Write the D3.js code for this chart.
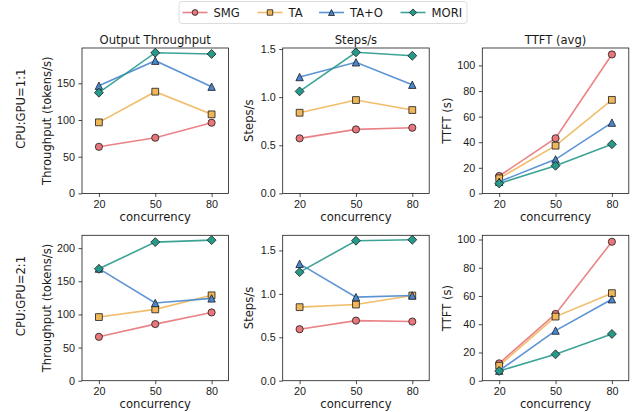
<!DOCTYPE html>
<html lang="en">
<head>
<meta charset="utf-8">
<script src="https://cdn.jsdelivr.net/npm/d3@7"></script>
<style>
body { margin: 0; background: #fff; }
svg { display: block; font-family: "DejaVu Sans", sans-serif; }
.tick text { font-size: 10.8px; fill: #1a1a1a; }
.tick line { stroke: #1a1a1a; stroke-width: 0.8; }
.domain { display: none; }
.lbl { font-size: 11.6px; fill: #1a1a1a; }
</style>
</head>
<body>
<div id="chart"></div>
<script>
// x categories and series names
var concurrency = [20, 50, 80];
var methods = ["SMG", "TA", "TA+O", "MORI"];
var rowLabels = ["CPU:GPU=1:1", "CPU:GPU=2:1"];
var titles = ["Output Throughput", "Steps/s", "TTFT (avg)"];
var yTitles = ["Throughput (tokens/s)", "Steps/s", "TTFT (s)"];

// values, one array per method in the order of `methods`
var throughput11 = [[63.5, 75.8, 96.3], [96.8, 138.6, 107.7], [146.7, 180.8, 145.4], [137.2, 191.7, 190.0]];
var steps11      = [[0.572, 0.665, 0.682], [0.838, 0.970, 0.866], [1.209, 1.362, 1.129], [1.060, 1.466, 1.430]];
var ttft11       = [[13.6, 43.1, 108.6], [11.8, 37.3, 73.1], [9.1, 26.6, 55.3], [7.8, 21.6, 38.4]];
var throughput21 = [[66.2, 85.4, 103.0], [96.0, 107.6, 128.8], [169.2, 117.2, 124.2], [168.8, 209.1, 212.1]];
var steps21      = [[0.593, 0.692, 0.681], [0.847, 0.877, 0.981], [1.346, 0.962, 0.981], [1.250, 1.612, 1.623]];
var ttft21       = [[12.3, 47.3, 98.4], [10.6, 45.4, 62.0], [7.1, 35.5, 57.7], [6.9, 18.7, 33.1]];

// y tick values
var throughputTicks11 = [0, 50, 100, 150];
var throughputTicks21 = [0, 50, 100, 150, 200];
var stepsTicks = [0, 0.5, 1.0, 1.5];
var ttftTicks = [0, 20, 40, 60, 80, 100];

var colors = {"SMG": "#e8767a", "TA": "#f0b65a", "TA+O": "#4a87cf", "MORI": "#27998b"};

// matplotlib-like marker shapes, size = marker size in px
var mkCircle = {draw: function(c, m) { c.moveTo(m / 2, 0); c.arc(0, 0, m / 2, 0, 2 * Math.PI); }};
var mkSquare = {draw: function(c, m) { c.rect(-m / 2, -m / 2, m, m); }};
var mkTri = {draw: function(c, m) { c.moveTo(0, -m / 2); c.lineTo(m / 2, m / 2); c.lineTo(-m / 2, m / 2); c.closePath(); }};
var mkDiamond = {draw: function(c, m) { var h = m / Math.SQRT2; c.moveTo(0, -h); c.lineTo(h, 0); c.lineTo(0, h); c.lineTo(-h, 0); c.closePath(); }};
var markers = {"SMG": [mkCircle, 7.2], "TA": [mkSquare, 6.8], "TA+O": [mkTri, 7.4], "MORI": [mkDiamond, 6.3]};

var panels = [
  [{data: throughput11, ticks: throughputTicks11, fmt: d3.format("d")},
   {data: steps11, ticks: stepsTicks, fmt: d3.format(".1f")},
   {data: ttft11, ticks: ttftTicks, fmt: d3.format("d")}],
  [{data: throughput21, ticks: throughputTicks21, fmt: d3.format("d")},
   {data: steps21, ticks: stepsTicks, fmt: d3.format(".1f")},
   {data: ttft21, ticks: ttftTicks, fmt: d3.format("d")}]
];

var width = 639, height = 412;
var colLeft = [82, 282.7, 482.3], colW = 146.5;
var rowTop = [48, 235.3], rowH = 145.4;
var yTitleX = [46.7, 249.3, 446.7];

var svg = d3.select("#chart").append("svg")
  .attr("width", width).attr("height", height);

panels.forEach(function(row, ri) {
  row.forEach(function(p, ci) {
    var g = svg.append("g").attr("transform", "translate(" + colLeft[ci] + "," + rowTop[ri] + ")");

    var all = d3.merge(p.data);
    var hi = d3.max(all), lo = d3.min(all);
    var y = d3.scaleLinear().domain([0, hi + 0.05 * (hi - lo)]).range([rowH, 0]);
    var x = d3.scalePoint().domain(concurrency).range([0, colW]).padding(0.3);

    g.append("g").call(d3.axisLeft(y).tickValues(p.ticks).tickFormat(p.fmt).tickSize(3.5).tickPadding(3.5));
    g.append("g").attr("transform", "translate(0," + rowH + ")")
      .call(d3.axisBottom(x).tickSize(3.5).tickPadding(3.5));

    var line = d3.line().x(function(d, i) { return x(concurrency[i]); }).y(function(d) { return y(d); });

    p.data.forEach(function(vals, mi) {
      var name = methods[mi];
      g.append("path").datum(vals)
        .attr("d", line)
        .attr("fill", "none")
        .attr("stroke", colors[name])
        .attr("stroke-opacity", 0.9)
        .attr("stroke-width", 1.6);
      g.selectAll(".m" + mi).data(vals).enter().append("path")
        .attr("class", "m" + mi)
        .attr("transform", function(d, i) { return "translate(" + x(concurrency[i]) + "," + y(d) + ")"; })
        .attr("d", d3.symbol().type(markers[name][0]).size(markers[name][1]))
        .attr("fill", colors[name])
        .attr("stroke", "#1a1a1a")
        .attr("stroke-width", 0.8);
    });

    g.append("rect").attr("width", colW).attr("height", rowH)
      .attr("fill", "none").attr("stroke", "#1a1a1a").attr("stroke-width", 0.8);

    // x label
    g.append("text").attr("class", "lbl")
      .attr("x", colW / 2).attr("y", rowH + 27.5)
      .attr("text-anchor", "middle").text("concurrency");

    // y label
    svg.append("text").attr("class", "lbl")
      .attr("transform", "translate(" + yTitleX[ci] + "," + (rowTop[ri] + rowH / 2) + ") rotate(-90)")
      .attr("text-anchor", "middle").attr("dy", "0.35em")
      .text(yTitles[ci]);

    if (ri === 0) {
      g.append("text").attr("class", "lbl")
        .attr("x", colW / 2).attr("y", -4)
        .attr("text-anchor", "middle").text(titles[ci]);
    }
  });

  svg.append("text").attr("class", "lbl")
    .attr("transform", "translate(20.7," + (rowTop[ri] + rowH / 2 - 12) + ") rotate(-90)")
    .attr("text-anchor", "middle").attr("dy", "0.35em")
    .text(rowLabels[ri]);
});

// legend
var legendX = [182.5, 257.5, 319, 400.5];
var leg = svg.append("g");
leg.append("rect").attr("x", 179).attr("y", 1.5).attr("width", 288).attr("height", 22)
  .attr("rx", 3).attr("fill", "#fff").attr("stroke", "#d4d4d4").attr("stroke-width", 0.8);
methods.forEach(function(name, i) {
  var lx = legendX[i];
  leg.append("line").attr("x1", lx).attr("x2", lx + 25).attr("y1", 12.5).attr("y2", 12.5)
    .attr("stroke", colors[name]).attr("stroke-opacity", 0.9).attr("stroke-width", 1.6);
  leg.append("path").attr("transform", "translate(" + (lx + 12.5) + ",12.5)")
    .attr("d", d3.symbol().type(markers[name][0]).size(markers[name][1] * 0.8))
    .attr("fill", colors[name]).attr("stroke", "#1a1a1a").attr("stroke-width", 0.8);
  leg.append("text").attr("class", "lbl").attr("x", lx + 31).attr("y", 12.5)
    .attr("dy", "0.36em").text(name);
});
</script>
</body>
</html>
